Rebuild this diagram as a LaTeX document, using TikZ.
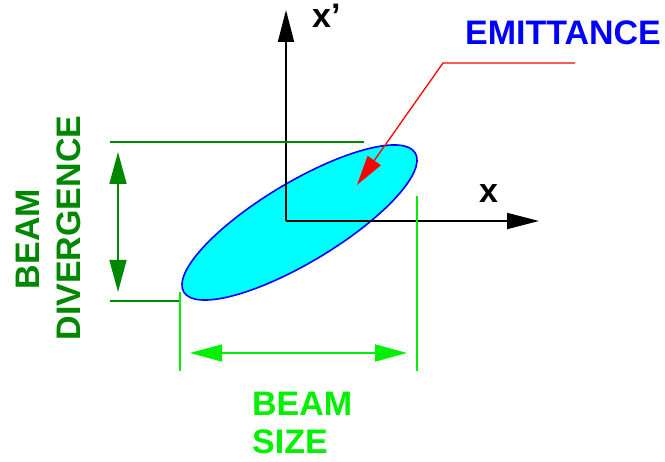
\documentclass[tikz,border=0pt]{standalone}
\usepackage{fontspec}
\setmainfont{Liberation Sans}
\usetikzlibrary{arrows.meta, shapes.geometric}

\definecolor{divgreen}{RGB}{0,135,0}
\definecolor{sizegreen}{RGB}{0,240,0}
\definecolor{spotcyan}{RGB}{0,255,255}

\tikzset{
  bigtext/.style={font=\bfseries\fontsize{34}{38}\selectfont, inner sep=0pt},
  bighead/.style={-{Triangle[length=32pt,width=16pt]}},
  twohead/.style={{Triangle[length=32pt,width=17pt]}-{Triangle[length=32pt,width=17pt]}},
}

\begin{document}
\begin{tikzpicture}[x=1pt, y=-1pt]

    \useasboundingbox (0,0) rectangle (665,462);

    % Phase space ellipse
    \node[ellipse, draw=blue, fill=spotcyan, line width=1.6pt, inner sep=0pt,
          minimum width=270, minimum height=80, rotate=31] (spot) at (299.5,222.5) {};

    % Axes x and x'
    \coordinate (origin) at (286,221);
    \coordinate (xtip) at (539,221);
    \coordinate (xptip) at (286,10);
    \draw[line width=1.8pt, bighead] (origin) -- (xtip);
    \draw[line width=1.8pt, bighead] (origin) -- (xptip);
    \node[bigtext, anchor=base] (xlabel) at (488.5,203) {x};
    \node[bigtext, anchor=base west] (xplabel) at (312,28) {x’};

    % Emittance label with leader
    \node[bigtext, text=blue, anchor=base] (emit) at (563,45) {EMITTANCE};
    \coordinate (leadend) at (575,63);
    \coordinate (leadknee) at (443,63);
    \coordinate (leadtip) at (357,185);
    \draw[red, line width=1.3pt, -{Triangle[length=30pt,width=16pt]}]
        (leadend) -- (leadknee) -- (leadtip);

    % Beam divergence dimension
    \coordinate (divtopA) at (110,142);
    \coordinate (divtopB) at (364,142);
    \coordinate (divbotA) at (110,301);
    \coordinate (divbotB) at (180,301);
    \draw[divgreen, line width=1.5pt] (divtopA) -- (divtopB);
    \draw[divgreen, line width=1.5pt] (divbotA) -- (divbotB);
    \coordinate (divup) at (118,152);
    \coordinate (divdown) at (118,292);
    \draw[divgreen, line width=1.5pt, twohead] (divdown) -- (divup);
    \node[bigtext, text=divgreen, rotate=90] (divline1) at (27.5,239) {BEAM};
    \node[bigtext, text=divgreen, rotate=90] (divline2) at (69,228) {DIVERGENCE};

    % Beam size dimension
    \coordinate (sizeLtop) at (180,292);
    \coordinate (sizeLbot) at (180,371);
    \coordinate (sizeRtop) at (417,196);
    \coordinate (sizeRbot) at (417,371);
    \draw[sizegreen, line width=1.5pt] (sizeLtop) -- (sizeLbot);
    \draw[sizegreen, line width=1.5pt] (sizeRtop) -- (sizeRbot);
    \coordinate (sizeleft) at (190,353);
    \coordinate (sizeright) at (407,353);
    \draw[sizegreen, line width=1.5pt, twohead] (sizeleft) -- (sizeright);
    \node[bigtext, text=sizegreen, anchor=base west] (sizeline1) at (252,416) {BEAM};
    \node[bigtext, text=sizegreen, anchor=base west] (sizeline2) at (252,454) {SIZE};

\end{tikzpicture}
\end{document}
